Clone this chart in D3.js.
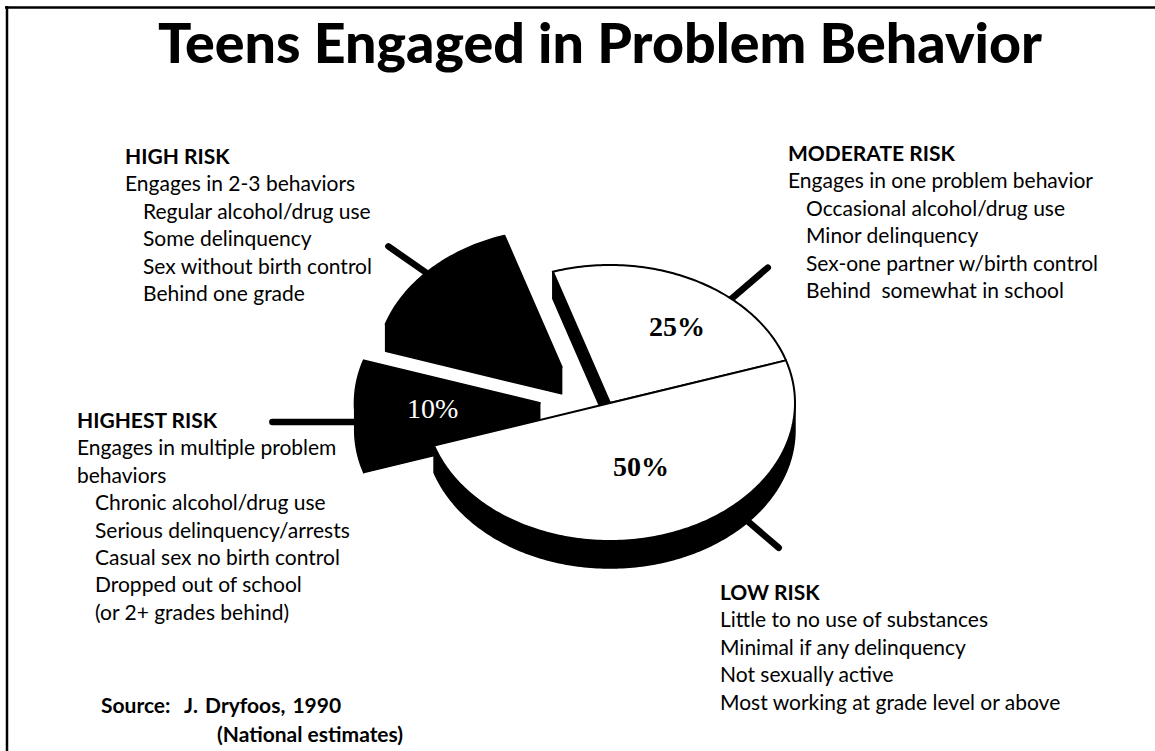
<!DOCTYPE html>
<html>
<head>
<meta charset="utf-8">
<script src="https://cdn.jsdelivr.net/npm/d3@7"></script>
<style>
  html, body { margin: 0; padding: 0; background: #fff; }
  svg { display: block; }
  text { white-space: pre; }
</style>
</head>
<body>
<svg id="chart" width="1155" height="751"></svg>
<script>
// ---------------- DATA ----------------
const titleText = "Teens Engaged in Problem Behavior";
const categories = ["LOW RISK", "HIGHEST RISK", "HIGH RISK", "MODERATE RISK"];
const shares = [50, 10, 15, 25];
const sliceLabels = ["50%", "10%", "", "25%"];

const highRiskLines = ["Engages in 2-3 behaviors", "Regular alcohol/drug use", "Some delinquency", "Sex without birth control", "Behind one grade"];
const highRiskIndent = [0, 1, 1, 1, 1];
const moderateRiskLines = ["Engages in one problem behavior", "Occasional alcohol/drug use", "Minor delinquency", "Sex-one partner w/birth control", "Behind  somewhat in school"];
const moderateRiskIndent = [0, 1, 1, 1, 1];
const highestRiskLines = ["Engages in multiple problem", "behaviors", "Chronic alcohol/drug use", "Serious delinquency/arrests", "Casual sex no birth control", "Dropped out of school", "(or 2+ grades behind)"];
const highestRiskIndent = [0, 0, 1, 1, 1, 1, 1];
const lowRiskLines = ["Little to no use of substances", "Minimal if any delinquency", "Not sexually active", "Most working at grade level or above"];
const lowRiskIndent = [0, 0, 0, 0];
const sourceLines = ["Source:  J. Dryfoos, 1990", "(National estimates)"];

// ---------------- LAYOUT / STYLE ----------------
const W = 1155, H = 751;
const cx = 610, cy = 403, rx = 185, ry = 138, depth = 27;
const startDeg = 72; // d3.pie angle (clockwise from 12 o'clock)
const sliceStyle = {
  "LOW RISK":      { fill: "#fff", explode: 0,    labelAngle: 70,  labelR: 0.49, labelFill: "#000", labelWeight: "bold" },
  "HIGHEST RISK":  { fill: "#000", explode: 0.38, labelAngle: 176, labelR: 0.58, labelFill: "#fff", labelWeight: "normal" },
  "HIGH RISK":     { fill: "#000", explode: 0.37, labelAngle: -135, labelR: 0.5, labelFill: "#fff", labelWeight: "normal" },
  "MODERATE RISK": { fill: "#fff", explode: 0,    labelAngle: -57, labelR: 0.665, labelFill: "#000", labelWeight: "bold" }
};
const leaderStyle = {
  "LOW RISK":      { angle: 49,   r0: 0.9, r1: 1.39, z: 0 },
  "HIGHEST RISK":  { angle: 180,  r0: 0.8, r1: 1.445, z: 19 },
  "HIGH RISK":     { angle: -137, r0: 0.8, r1: 1.28, z: 0 },
  "MODERATE RISK": { angle: -49,  r0: 0.9, r1: 1.30, z: 0 }
};
const blocks = [
  { head: "HIGH RISK",     lines: highRiskLines,     indent: highRiskIndent,     x: 125, y: 164 },
  { head: "MODERATE RISK", lines: moderateRiskLines, indent: moderateRiskIndent, x: 788, y: 161 },
  { head: "HIGHEST RISK",  lines: highestRiskLines,  indent: highestRiskIndent,  x: 77,  y: 428 },
  { head: "LOW RISK",      lines: lowRiskLines,      indent: lowRiskIndent,      x: 720, y: 600 }
];
const lineGap = 27.4, indentW = 18;
const sansFont = "Lato, 'Open Sans', sans-serif";
const serifFont = "'Liberation Serif', 'DejaVu Serif', serif";

const svg = d3.select("#chart");
svg.append("rect").attr("width", W).attr("height", H).attr("fill", "#fff");

// frame (top and left edges)
svg.append("line").attr("x1", 5).attr("y1", 7.5).attr("x2", W).attr("y2", 7.5)
  .attr("stroke", "#000").attr("stroke-width", 2.5);
svg.append("line").attr("x1", 7).attr("y1", 6).attr("x2", 7).attr("y2", H)
  .attr("stroke", "#000").attr("stroke-width", 2.5);

// title
svg.append("text").attr("x", 158).attr("y", 63)
  .attr("font-family", sansFont).attr("font-weight", 900).attr("font-size", 56)
  .attr("textLength", 884).attr("lengthAdjust", "spacingAndGlyphs")
  .text(titleText);

// ---------------- PIE ----------------
const rad = d => d * Math.PI / 180;
const pie = d3.pie().sort(null).value(d => d)
  .startAngle(rad(startDeg)).endAngle(rad(startDeg + 360));
const arcs = pie(shares).map((a, i) => {
  const cat = categories[i];
  const st = sliceStyle[cat];
  const t0 = a.startAngle - Math.PI / 2, t1 = a.endAngle - Math.PI / 2;
  const mid = (t0 + t1) / 2;
  const c = [cx + st.explode * rx * Math.cos(mid), cy + st.explode * ry * Math.sin(mid)];
  return { cat, st, t0, t1, mid, c, label: sliceLabels[i] };
});

function pt(c, th, r, z) { return [c[0] + r * rx * Math.cos(th), c[1] + r * ry * Math.sin(th) + (z || 0)]; }
function arcPts(c, a, b, z) {
  const n = Math.max(2, Math.ceil(Math.abs(b - a) / rad(1)));
  return d3.range(n + 1).map(i => pt(c, a + (b - a) * i / n, 1, z));
}
const lineGen = d3.line();
const closed = pts => lineGen(pts) + "Z";

// leaders (drawn first, pie covers their inner ends)
const gLead = svg.append("g");
arcs.forEach(s => {
  const L = leaderStyle[s.cat];
  const p0 = pt(s.c, rad(L.angle), L.r0, L.z), p1 = pt(s.c, rad(L.angle), L.r1, L.z);
  gLead.append("line").attr("x1", p0[0]).attr("y1", p0[1]).attr("x2", p1[0]).attr("y2", p1[1])
    .attr("stroke", "#000").attr("stroke-width", 6.5).attr("stroke-linecap", "round");
});

// draw order: back to front
const order = arcs.slice().sort((a, b) => Math.sin(a.mid) - Math.sin(b.mid));
const gPie = svg.append("g");
order.forEach(s => {
  const g = gPie.append("g");
  const wallAttr = sel => sel.attr("fill", "#000").attr("stroke", "#000").attr("stroke-width", 1.5).attr("stroke-linejoin", "round");
  // outer front wall
  [-1, 0, 1].forEach(k => {
    const a = Math.max(s.t0, 2 * Math.PI * k), b = Math.min(s.t1, Math.PI + 2 * Math.PI * k);
    if (b > a) {
      const top = arcPts(s.c, a, b, 0), bot = arcPts(s.c, b, a, depth);
      g.append("path").attr("d", closed(top.concat(bot))).call(wallAttr);
    }
  });
  // radial walls
  if (Math.cos(s.t0) < 0) {
    const e = pt(s.c, s.t0, 1, 0), eb = pt(s.c, s.t0, 1, depth);
    g.append("path").attr("d", closed([s.c, e, eb, [s.c[0], s.c[1] + depth]])).call(wallAttr);
  }
  if (Math.cos(s.t1) > 0) {
    const e = pt(s.c, s.t1, 1, 0), eb = pt(s.c, s.t1, 1, depth);
    g.append("path").attr("d", closed([s.c, e, eb, [s.c[0], s.c[1] + depth]])).call(wallAttr);
  }
  // top face
  g.append("path").attr("d", closed([s.c].concat(arcPts(s.c, s.t0, s.t1, 0))))
    .attr("fill", s.st.fill).attr("stroke", "#000").attr("stroke-width", 2).attr("stroke-linejoin", "round");
});

// slice labels
arcs.filter(s => s.label).forEach(s => {
  const p = pt(s.c, rad(s.st.labelAngle), s.st.labelR, 0);
  svg.append("text").attr("x", p[0]).attr("y", p[1]).attr("dy", "0.35em")
    .attr("text-anchor", "middle").attr("font-family", serifFont)
    .attr("font-weight", s.st.labelWeight).attr("font-size", 28)
    .attr("fill", s.st.labelFill).text(s.label);
});

// ---------------- TEXT BLOCKS ----------------
blocks.forEach(b => {
  const g = svg.append("g").attr("font-family", sansFont).attr("fill", "#000");
  g.append("text").attr("x", b.x).attr("y", b.y).attr("font-size", 21).attr("font-weight", 700).text(b.head);
  b.lines.forEach((t, i) => {
    g.append("text").attr("x", b.x + b.indent[i] * indentW).attr("y", b.y + (i + 1) * lineGap)
      .attr("font-size", 21).text(t);
  });
});

const gs = svg.append("g").attr("font-family", sansFont).attr("font-weight", 700).attr("font-size", 21);
gs.append("text").attr("x", 101).attr("y", 713).attr("word-spacing", 2).text(sourceLines[0]);
gs.append("text").attr("x", 217).attr("y", 742).text(sourceLines[1]);
</script>
</body>
</html>
